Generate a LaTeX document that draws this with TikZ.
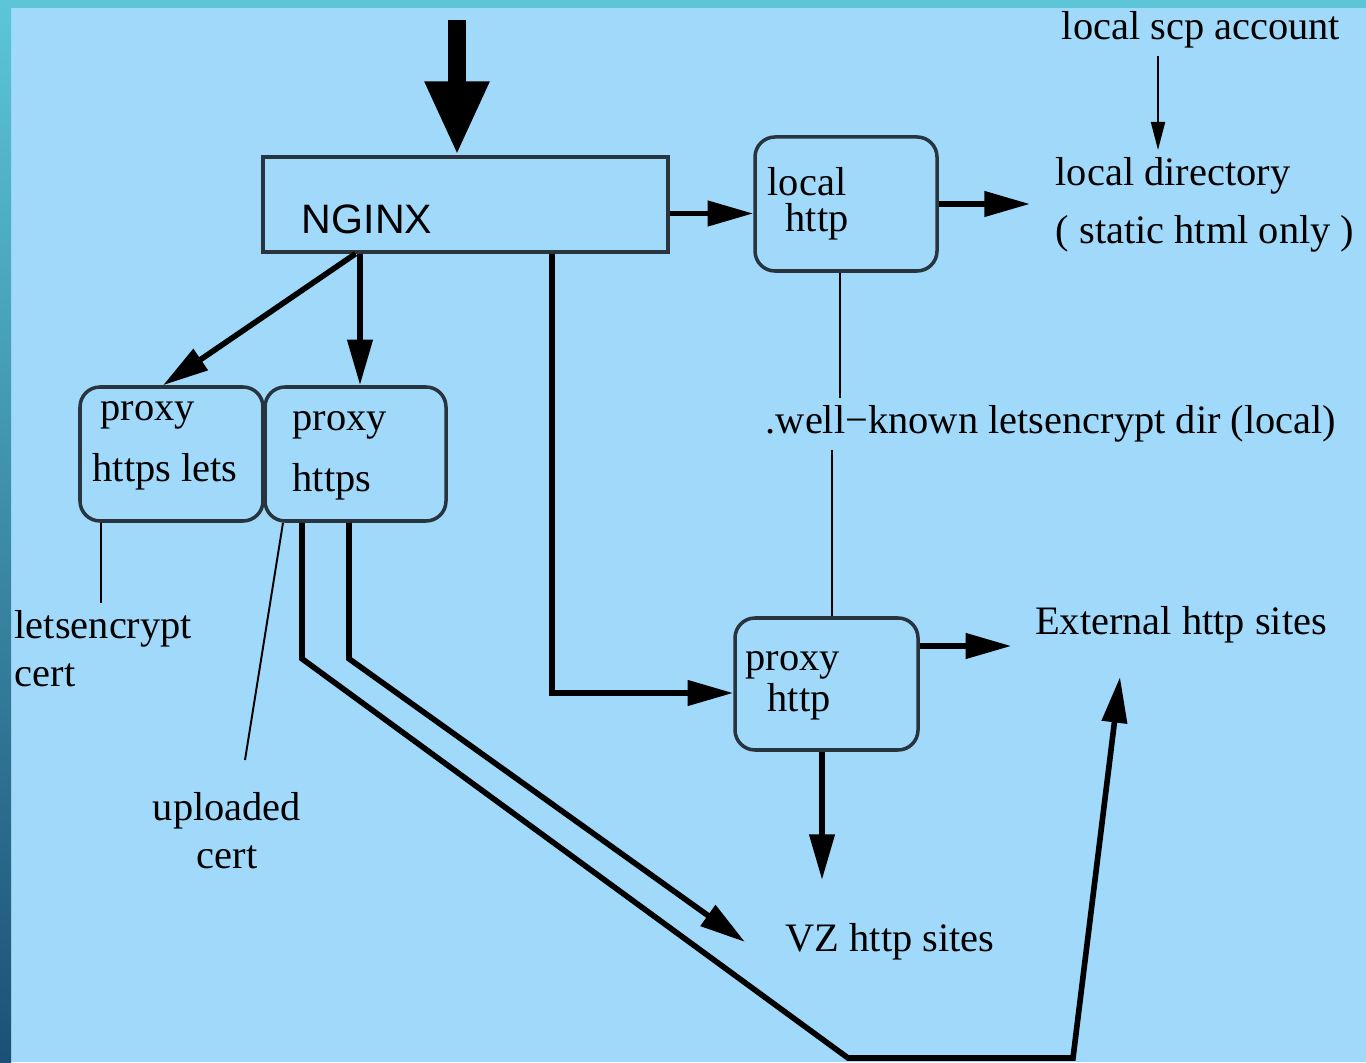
\documentclass[tikz,border=0pt]{standalone}
\usepackage{fontspec}
\setmainfont{Liberation Serif}
\setsansfont{Liberation Sans}
\usetikzlibrary{arrows.meta}

\definecolor{skyback}{RGB}{160,217,250}
\definecolor{edgetop}{RGB}{92,198,216}
\definecolor{edgemid}{RGB}{62,166,196}
\definecolor{edgebottom}{RGB}{28,80,118}
\definecolor{boxline}{RGB}{40,52,62}

\begin{document}
\begin{tikzpicture}[font=\fontsize{11.5}{13.5}\selectfont, inner sep=2pt,
    box/.style={draw=boxline, line width=1pt, minimum width=1.82cm, minimum height=1.34cm, rounded corners=0.2cm},
    flow/.style={line width=1.6pt, -{Triangle[length=13pt,width=7pt]}},
    link/.style={line width=0.55pt}]

        % Background with the coloured edges
        \useasboundingbox (0,0) rectangle (13.66,10.62);
        \fill[skyback] (0,0) rectangle (13.66,10.62);
        \shade[top color=edgetop, middle color=edgemid, bottom color=edgebottom] (0,0) rectangle (0.11,10.62);
        \fill[edgetop] (0,10.54) rectangle (13.66,10.62);

        % NGINX front end
        \node[draw=boxline, line width=1pt, minimum width=4.05cm, minimum height=0.95cm] (nginx) at (4.655,8.575) {};
        \node[font=\sffamily\fontsize{11.7}{14}\selectfont] (nginxtext) at (3.67,8.43) {NGINX};

        % Handler boxes
        \node[box] (localhttp) at (8.46,8.58) {};
        \node[box, minimum width=1.83cm] (proxylets) at (1.715,6.08) {};
        \node[box, minimum width=1.81cm] (proxyhttps) at (3.555,6.08) {};
        \node[box, minimum width=1.83cm, minimum height=1.32cm] (proxyhttp) at (8.265,3.78) {};

        % Texts in the boxes
        \node[anchor=west] (localtext) at (7.60,8.80) {local};
        \node[anchor=west] (localhttptext) at (7.78,8.40) {http};
        \node[anchor=west] (letsproxy) at (0.93,6.47) {proxy};
        \node[anchor=west] (letshttps) at (0.85,5.90) {https lets};
        \node[anchor=west] (httpsproxy) at (2.85,6.37) {proxy};
        \node[anchor=west] (httpshttps) at (2.85,5.80) {https};
        \node[anchor=west] (httpproxy) at (7.38,3.97) {proxy};
        \node[anchor=west] (httphttp) at (7.60,3.60) {http};

        % Free labels
        \node (scp) at (12.01,10.32) {local scp account};
        \node[anchor=north west, align=left, font=\fontsize{11.5}{16.5}\selectfont] (localdir) at (10.48,9.12) {local directory\\( static html only )};
        \node (wellknown) at (10.51,6.38) {.well−known letsencrypt dir (local)};
        \node (external) at (11.81,4.37) {External http sites};
        \node (vz) at (8.90,1.20) {VZ http sites};
        \node[anchor=north west, align=left] (letscert) at (0.07,4.59) {letsencrypt\\cert};
        \node[anchor=north, align=center] (uploadcert) at (2.27,2.77) {uploaded\\cert};

        % Incoming traffic
        \coordinate (entry) at (4.57,10.42);
        \draw[line width=5.1pt, -{Triangle[length=21pt,width=17pt]}] (entry) -- (entry |- nginx.north);

        % Arrows out of NGINX
        \draw[flow] ([yshift=-0.09cm]nginx.east) -- ([yshift=-0.09cm]nginx.east -| localhttp.west);
        \draw[flow] ([xshift=-1.1cm]nginx.south) -- ([xshift=-0.085cm]proxylets.north);
        \draw[flow] ([xshift=0.045cm]proxyhttps.north |- nginx.south) -- ([xshift=0.045cm]proxyhttps.north);
        \draw[flow] ([xshift=0.865cm]nginx.south) |- ([yshift=-0.09cm]proxyhttp.west);

        % Local directory side
        \draw[flow, shorten >=0.18cm] (localhttp.east) -- (localhttp.east -| localdir.west);
        \draw[link, -{Triangle[length=8pt,width=4pt]}] ([xshift=-0.43cm]scp.south) -- ([xshift=-0.43cm]scp.south |- localdir.north);
        \draw[link] ([xshift=-0.06cm]localhttp.south) -- ([xshift=-0.06cm]localhttp.south |- wellknown.north);
        \draw[link] ([xshift=0.055cm]proxyhttp.north) -- ([xshift=0.055cm]proxyhttp.north |- wellknown.south);

        % Proxy http to the sites
        \draw[flow, shorten >=0.16cm] ([yshift=0.38cm]proxyhttp.east) -- ([yshift=0.38cm]proxyhttp.east -| external.west);
        \draw[flow, shorten >=0.36cm] ([xshift=-0.045cm]proxyhttp.south) -- ([xshift=-0.045cm]proxyhttp.south |- vz.north);

        % Certificates
        \draw[link] ([xshift=-0.705cm]proxylets.south) -- ([xshift=-0.705cm]proxylets.south |- letscert.north);
        \draw[link] ([xshift=-0.725cm]proxyhttps.south) -- ([xshift=0.18cm,yshift=0.25cm]uploadcert.north);

        % Proxy https routes
        \coordinate (vzin) at (7.45,1.20);
        \coordinate (extin) at (11.20,3.85);
        \draw[flow] ([xshift=-0.065cm]proxyhttps.south) -- ++(0,-1.36) -- (vzin);
        \draw[flow] ([xshift=-0.535cm]proxyhttps.south) -- ++(0,-1.36) -- (8.48,0.04) -- (10.73,0.04) -- (extin);

      \end{tikzpicture}
\end{document}
